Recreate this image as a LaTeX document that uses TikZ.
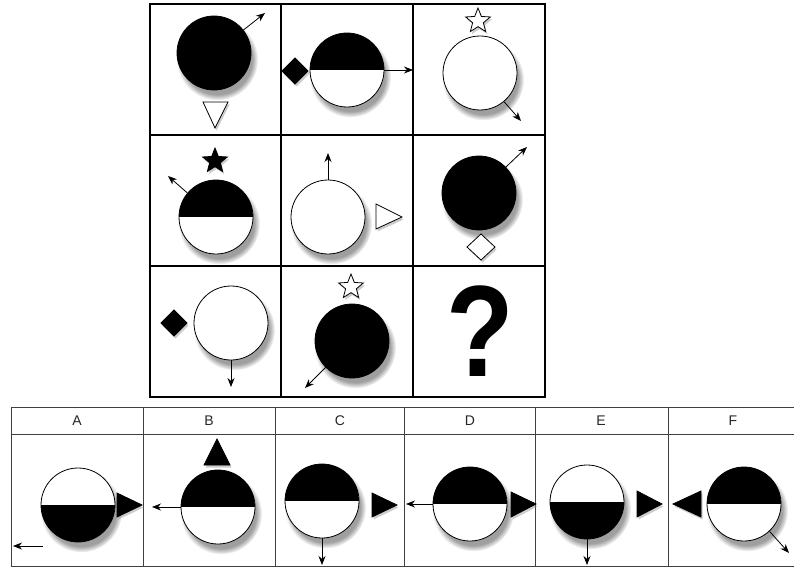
\documentclass[tikz,border=0pt]{standalone}
\usepackage{fontspec}
\setmainfont{Liberation Sans}
\usetikzlibrary{shapes.geometric,shadows,arrows.meta}
\tikzset{
  shd/.style={circular drop shadow={shadow xshift=3pt,shadow yshift=-6pt,shadow scale=1.1,opacity=0.75}},
  sshd/.style={drop shadow={shadow xshift=1.5pt,shadow yshift=-2.5pt,opacity=0.4}},
  base/.style={circle,draw=black,line width=0.8pt,minimum size=74pt,inner sep=0pt,shd},
  wc/.style={base,fill=white},
  bc/.style={base,fill=black},
  htop/.style={base,fill=white,path picture={\fill[black] (path picture bounding box.west) rectangle (path picture bounding box.north east);}},
  hbot/.style={base,fill=white,path picture={\fill[black] (path picture bounding box.south west) rectangle (path picture bounding box.east);}},
  arr/.style={line width=0.8pt,-{Stealth[length=9pt,width=7pt]}},
  shp/.style={draw=black,line width=0.8pt,sshd},
  wstar/.style={star,star points=5,star point ratio=2.3,minimum size=26pt,inner sep=0pt,draw=black,line width=0.8pt,fill=white,sshd},
  bstar/.style={wstar,fill=black},
  grid/.style={line width=1.3pt,draw=black},
  agrid/.style={line width=1pt,draw=black!75},
  lab/.style={font=\fontsize{14}{14}\selectfont,text=black!85,inner sep=0pt}
}
\begin{document}
\begin{tikzpicture}[x=1pt,y=-1pt]
\useasboundingbox (0,0) rectangle (794,567);
\fill[white] (0,0) rectangle (794,567);
% main grid
\draw[grid] (150,4) rectangle (545,397);
\draw[grid] (281,4) -- (281,397) (413,4) -- (413,397) (150,135) -- (545,135) (150,266) -- (545,266);
% answer row frame
\draw[agrid] (800,407) -- (11,407) -- (11,566) -- (800,566);
\draw[agrid] (11,434) -- (800,434);
\foreach \x in {143,275,404,535,668} \draw[agrid] (\x,407) -- (\x,566);
\node[lab] (lA) at (77,421) {A};
\node[lab] (lB) at (209,421) {B};
\node[lab] (lC) at (340,421) {C};
\node[lab] (lD) at (470,421) {D};
\node[lab] (lE) at (601,421) {E};
\node[lab] (lF) at (733,421) {F};
% row 1
\node[bc] (c11) at (214,53) {};
\coordinate (a11) at (265,13);
\draw[arr] (c11.38) -- (a11);
\filldraw[shp,fill=white] (203,102) -- (228,102) -- (215,128) -- cycle;
\filldraw[shp,fill=black] (282,71) -- (295,58) -- (308,71) -- (295,84) -- cycle;
\node[htop] (c12) at (347,70) {};
\coordinate (a12) at (413,70);
\draw[arr] (c12.east) -- (a12);
\node[wstar] (s13) at (478,21) {};
\node[wc] (c13) at (480,73) {};
\coordinate (a13) at (521,121);
\draw[arr] (c13.-50) -- (a13);
% row 2
\node[bstar] (s21) at (215,161) {};
\node[htop] (c21) at (216,217) {};
\coordinate (a21) at (168,176);
\draw[arr] (c21.140) -- (a21);
\node[wc] (c22) at (328,217) {};
\coordinate (a22) at (328,153);
\draw[arr] (c22.north) -- (a22);
\filldraw[shp,fill=white] (376,204) -- (402,217) -- (376,229) -- cycle;
\node[bc] (c23) at (479,193) {};
\coordinate (a23) at (527,147);
\draw[arr] (c23.44) -- (a23);
\filldraw[shp,fill=white] (467,247) -- (481,234) -- (495,247) -- (481,260) -- cycle;
% row 3
\filldraw[shp,fill=black] (161,323) -- (174,310) -- (187,323) -- (174,336) -- cycle;
\node[wc] (c31) at (231,323) {};
\coordinate (a31) at (231,387);
\draw[arr] (c31.south) -- (a31);
\node[wstar] (s32) at (351,287) {};
\node[bc] (c32) at (352,341) {};
\coordinate (a32) at (305,388);
\draw[arr] (c32.225) -- (a32);
\node[inner sep=0pt,xscale=0.85,font=\fontsize{130}{130}\selectfont\bfseries] (q) at (480,331) {?};
% answers
% A
\node[hbot] (cA) at (78,505) {};
\filldraw[shp,fill=black] (117,493) -- (142,505) -- (117,517) -- cycle;
\coordinate (aA1) at (43,546);
\coordinate (aA2) at (13,546);
\draw[arr] (aA1) -- (aA2);
% B
\filldraw[shp,fill=black] (204,465) -- (217,439) -- (230,465) -- cycle;
\node[htop] (cB) at (218,507) {};
\coordinate (aB) at (152,507);
\draw[arr] (cB.west) -- (aB);
% C
\node[htop] (cC) at (322,501) {};
\filldraw[shp,fill=black] (372,493) -- (397,505) -- (372,517) -- cycle;
\coordinate (aC) at (322,565);
\draw[arr] (cC.south) -- (aC);
% D
\node[htop] (cD) at (470,504) {};
\filldraw[shp,fill=black] (511,492) -- (536,504) -- (511,517) -- cycle;
\coordinate (aD) at (406,504);
\draw[arr] (cD.west) -- (aD);
% E
\node[hbot] (cE) at (587,502) {};
\filldraw[shp,fill=black] (637,491) -- (662,504) -- (637,517) -- cycle;
\coordinate (aE) at (587,565);
\draw[arr] (cE.south) -- (aE);
% F
\filldraw[shp,fill=black] (701,491) -- (673,504) -- (701,517) -- cycle;
\node[htop] (cF) at (744,504) {};
\coordinate (aF) at (789,553);
\draw[arr] (cF.-47) -- (aF);
\end{tikzpicture}
\end{document}
